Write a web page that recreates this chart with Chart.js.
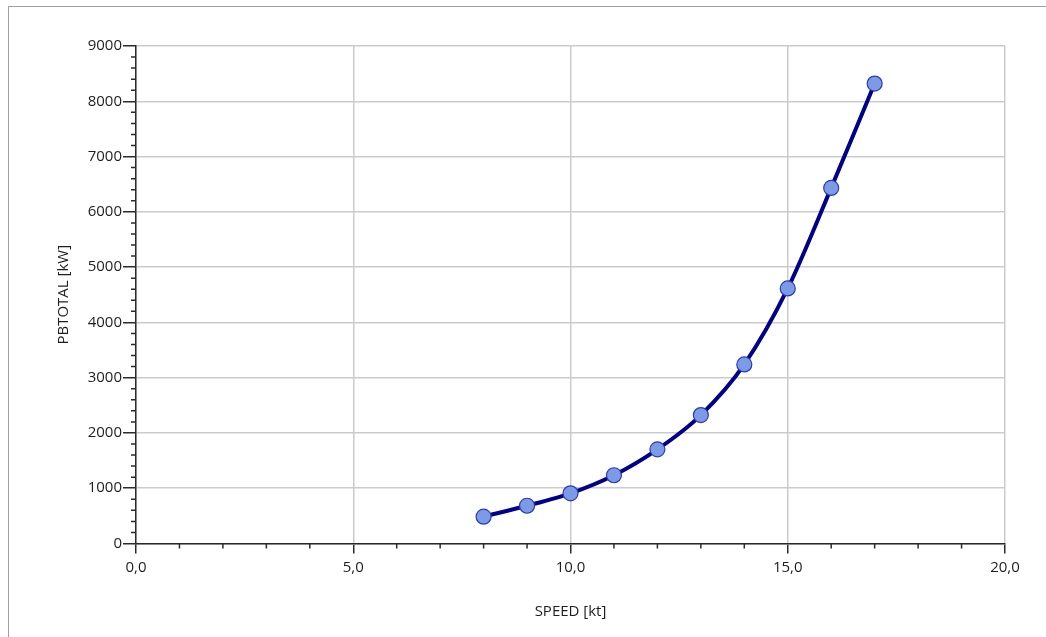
<!DOCTYPE html>
<html>
<head>
<meta charset="utf-8">
<script src="https://cdn.jsdelivr.net/npm/chart.js@4"></script>
<style>
  html, body { margin: 0; padding: 0; background: #fff; overflow: hidden; width: 1046px; height: 637px; }
  #frame { position: absolute; left: 8px; top: 6px; right: 0; bottom: 0; border-left: 1px solid #a0a0a0; border-top: 1px solid #a0a0a0; }
  #chart { position: absolute; left: 0; top: 0; }
</style>
</head>
<body>
<div id="frame"></div>
<canvas id="chart" width="1046" height="637"></canvas>
<script>
// === Data ===
const speeds = [8, 9, 10, 11, 12, 13, 14, 15, 16, 17];
const pbTotal = [485, 683, 908, 1235, 1703, 2323, 3240, 4614, 6433, 8320];

const xTicks = [0, 5, 10, 15, 20];
const yTicks = [0, 1000, 2000, 3000, 4000, 5000, 6000, 7000, 8000, 9000];
const xMinorStep = 1;
const yMinorStep = 200;

const axisColor = '#2b2b2b';
const textColor = '#1e1e1e';
const gridColor = '#cbcbcb';
const font = { family: "'Segoe UI', 'Open Sans', 'Noto Sans', sans-serif", size: 15 };

// Short minor tick marks, drawn with the scales' own pixel mapping
const minorTicks = {
  id: 'minorTicks',
  afterDraw(chart) {
    const { ctx, scales: { x, y } } = chart;
    ctx.save();
    ctx.strokeStyle = axisColor;
    ctx.lineWidth = 1.5;
    ctx.beginPath();
    for (let v = x.min; v <= x.max; v += xMinorStep) {
      if (xTicks.includes(v)) continue;
      const px = x.getPixelForValue(v);
      ctx.moveTo(px, y.bottom);
      ctx.lineTo(px, y.bottom + 5);
    }
    for (let v = y.min; v <= y.max; v += yMinorStep) {
      if (yTicks.includes(v)) continue;
      const py = y.getPixelForValue(v);
      ctx.moveTo(x.left - 5, py);
      ctx.lineTo(x.left, py);
    }
    ctx.stroke();
    ctx.restore();
  }
};

new Chart(document.getElementById('chart'), {
  type: 'line',
  data: {
    datasets: [{
      data: speeds.map((s, i) => ({ x: s, y: pbTotal[i] })),
      borderColor: '#00008b',
      borderWidth: 4,
      tension: 0.3,
      pointRadius: 7.5,
      pointBackgroundColor: '#7d9ae6',
      pointBorderColor: '#2a3cb0',
      pointBorderWidth: 1.2,
      fill: false
    }]
  },
  options: {
    responsive: false,
    animation: false,
    devicePixelRatio: 1,
    layout: { padding: { left: 0, top: 46, right: 41, bottom: 0 } },
    plugins: { legend: { display: false }, tooltip: { enabled: false } },
    scales: {
      x: {
        type: 'linear',
        min: 0, max: 20,
        afterBuildTicks: s => { s.ticks = xTicks.map(v => ({ value: v })); },
        afterFit: s => { s.height = 93.5; },
        ticks: {
          color: textColor, font, padding: 5, maxRotation: 0,
          callback: v => v.toFixed(1).replace('.', ',')
        },
        grid: { color: gridColor, lineWidth: 1.5, tickColor: axisColor, tickLength: 10, drawTicks: true },
        border: { color: axisColor, width: 1.5 },
        title: { display: true, text: 'SPEED [kt]', color: textColor, font, padding: { top: 16, bottom: 16 } }
      },
      y: {
        min: 0, max: 9000,
        afterBuildTicks: s => { s.ticks = yTicks.map(v => ({ value: v })); },
        afterFit: s => { s.width = 136; },
        ticks: { color: textColor, font, padding: 1, callback: v => String(v) },
        grid: { color: gridColor, lineWidth: 1.5, tickColor: axisColor, tickLength: 13, drawTicks: true },
        border: { color: axisColor, width: 1.5 },
        title: { display: true, text: 'PBTOTAL [kW]', color: textColor, font, padding: { top: 55, bottom: 55 } }
      }
    }
  },
  plugins: [minorTicks]
});
</script>
</body>
</html>
